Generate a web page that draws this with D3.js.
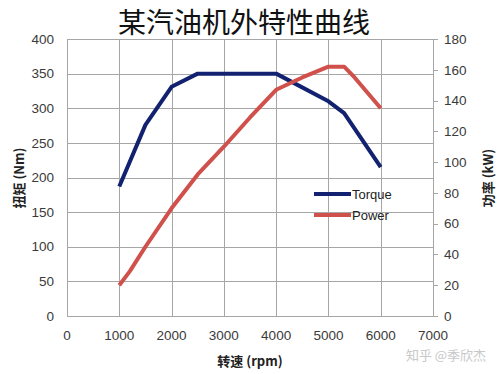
<!DOCTYPE html>
<html>
<head>
<meta charset="utf-8">
<script src="https://cdn.jsdelivr.net/npm/d3@7"></script>
<style>
  body { margin: 0; background: #fff; }
  svg { display: block; font-family: "Liberation Sans", Arial, sans-serif; }
</style>
</head>
<body>
<svg id="chart" width="500" height="374"></svg>
<script>
  // data
  const torqueRpm = [1000, 1500, 2000, 2500, 3000, 3500, 4000, 5000, 5300, 6000];
  const torqueNm = [187, 276, 331, 350, 350, 350, 350, 310, 293, 215];
  const powerRpm = [1000, 1200, 1500, 2000, 2500, 3000, 3500, 4000, 4500, 5000, 5300, 5500, 6000];
  const powerKw = [20, 29, 45, 70, 92, 110, 129, 147, 155, 162, 162, 155, 135];
  const xTicks = [0, 1000, 2000, 3000, 4000, 5000, 6000, 7000];
  const yLeftTicks = [0, 50, 100, 150, 200, 250, 300, 350, 400];
  const yRightTicks = [0, 20, 40, 60, 80, 100, 120, 140, 160, 180];
  const seriesNames = ["Torque", "Power"];
  const seriesColors = ["#122270", "#d0504b"];

  const svg = d3.select("#chart");
  const plot = { left: 67, right: 433, top: 39, bottom: 316 };

  const x = d3.scaleLinear().domain([0, 7000]).range([plot.left, plot.right]);
  const yL = d3.scaleLinear().domain([0, 400]).range([plot.bottom, plot.top]);
  const yR = d3.scaleLinear().domain([0, 180]).range([plot.bottom, plot.top]);

  // grid
  const grid = svg.append("g").attr("stroke", "#a6a6a6").attr("stroke-width", 1);
  grid.selectAll(".h").data(yLeftTicks).join("line")
    .attr("x1", plot.left).attr("x2", plot.right)
    .attr("y1", d => Math.round(yL(d)) + 0.5).attr("y2", d => Math.round(yL(d)) + 0.5);
  grid.selectAll(".v").data(xTicks).join("line")
    .attr("y1", plot.top).attr("y2", plot.bottom)
    .attr("x1", d => Math.round(x(d)) + 0.5).attr("x2", d => Math.round(x(d)) + 0.5);

  // right axis tick marks
  svg.append("g").attr("stroke", "#a6a6a6")
    .selectAll("line").data(yRightTicks).join("line")
    .attr("x1", plot.right).attr("x2", plot.right + 5)
    .attr("y1", d => Math.round(yR(d)) + 0.5).attr("y2", d => Math.round(yR(d)) + 0.5);

  const tickFont = 13.5, tickColor = "#3a3a3a";

  svg.append("g").selectAll("text").data(yLeftTicks).join("text")
    .attr("x", 54).attr("y", d => yL(d)).attr("dy", "0.35em")
    .attr("text-anchor", "end").attr("font-size", tickFont).attr("fill", tickColor)
    .text(d => d);

  svg.append("g").selectAll("text").data(yRightTicks).join("text")
    .attr("x", 444).attr("y", d => yR(d)).attr("dy", "0.35em")
    .attr("text-anchor", "start").attr("font-size", tickFont).attr("fill", tickColor)
    .text(d => d);

  svg.append("g").selectAll("text").data(xTicks).join("text")
    .attr("x", d => x(d)).attr("y", 335).attr("dy", "0.35em")
    .attr("text-anchor", "middle").attr("font-size", tickFont).attr("fill", tickColor)
    .text(d => d);

  // lines
  const torque = torqueRpm.map((r, i) => [r, torqueNm[i]]);
  const power = powerRpm.map((r, i) => [r, powerKw[i]]);

  svg.append("path").datum(torque)
    .attr("fill", "none").attr("stroke", seriesColors[0]).attr("stroke-width", 4)
    .attr("stroke-linejoin", "round")
    .attr("d", d3.line().x(d => x(d[0])).y(d => yL(d[1])));

  svg.append("path").datum(power)
    .attr("fill", "none").attr("stroke", seriesColors[1]).attr("stroke-width", 4)
    .attr("stroke-linejoin", "round")
    .attr("d", d3.line().x(d => x(d[0])).y(d => yR(d[1])));

  // legend
  const legend = svg.append("g").selectAll("g").data(seriesNames).join("g")
    .attr("transform", (d, i) => `translate(314,${194 + i * 21})`);
  legend.append("line").attr("x1", 0).attr("x2", 37).attr("y1", 0).attr("y2", 0)
    .attr("stroke", (d, i) => seriesColors[i]).attr("stroke-width", 4);
  legend.append("text").attr("x", 38).attr("dy", "0.35em")
    .attr("font-size", 13).attr("fill", "#222").text(d => d);

  // titles
  svg.append("text").attr("x", 244).attr("y", 23).attr("dy", "0.36em")
    .attr("text-anchor", "middle").attr("font-size", 28)
    .attr("font-family", "'Noto Sans CJK SC', sans-serif").attr("fill", "#111")
    .text("某汽油机外特性曲线");

  svg.append("text").attr("x", 250).attr("y", 361).attr("dy", "0.35em")
    .attr("text-anchor", "middle").attr("font-size", 13).attr("font-weight", "bold")
    .attr("font-family", "'Noto Sans CJK SC', sans-serif").attr("fill", "#222")
    .text("转速 (rpm)");

  svg.append("text").attr("transform", "translate(19,178) rotate(-90)").attr("dy", "0.35em")
    .attr("text-anchor", "middle").attr("font-size", 13).attr("font-weight", "bold")
    .attr("font-family", "'Noto Sans CJK SC', sans-serif").attr("fill", "#222")
    .text("扭矩 (Nm)");

  svg.append("text").attr("transform", "translate(488,178) rotate(-90)").attr("dy", "0.35em")
    .attr("text-anchor", "middle").attr("font-size", 13).attr("font-weight", "bold")
    .attr("font-family", "'Noto Sans CJK SC', sans-serif").attr("fill", "#222")
    .text("功率 (kW)");

  // watermark
  svg.append("text").attr("x", 446).attr("y", 355).attr("dy", "0.35em")
    .attr("text-anchor", "middle").attr("font-size", 13)
    .attr("font-family", "'Noto Sans CJK SC', sans-serif").attr("fill", "#c8c8c8")
    .text("知乎 @季欣杰");
</script>
</body>
</html>
